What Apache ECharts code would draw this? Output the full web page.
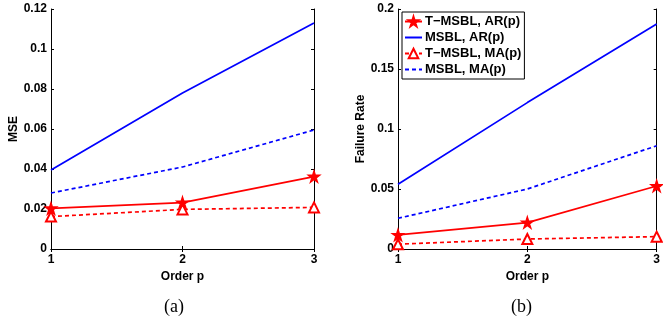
<!DOCTYPE html>
<html>
<head>
<meta charset="utf-8">
<script src="https://cdn.jsdelivr.net/npm/echarts@6/dist/echarts.min.js"></script>
<style>
html,body{margin:0;padding:0;background:#fff;}
#c{width:663px;height:321px;}
</style>
</head>
<body>
<div id="c"></div>
<script>
// Data
const orders = [1, 2, 3];
const seriesNames = ['T\u2212MSBL, AR(p)', 'MSBL, AR(p)', 'T\u2212MSBL, MA(p)', 'MSBL, MA(p)'];
// Panel (a) MSE
const mseTAR = [0.0203, 0.0232, 0.0362];
const mseMSBLAR = [0.0395, 0.078, 0.113];
const mseTMA = [0.0162, 0.0198, 0.0208];
const mseMSBLMA = [0.028, 0.041, 0.0595];
// Panel (b) Failure rate
const frTAR = [0.0117, 0.022, 0.0525];
const frMSBLAR = [0.054, 0.122, 0.1875];
const frTMA = [0.004, 0.0083, 0.0103];
const frMSBLMA = [0.0256, 0.050, 0.086];
const captions = ['(a)', '(b)'];

const STAR = 'path://M50,0 L61.2,34.5 L97.6,34.5 L68.2,55.9 L79.4,90.5 L50,69.1 L20.6,90.5 L31.8,55.9 L2.4,34.5 L38.8,34.5 Z';
const RED = '#ff0000', BLUE = '#0000ff';
const FONT = 'Liberation Sans, Arial, sans-serif';

const pairs = (ys) => orders.map((x, i) => [x, ys[i]]);

const grids = [
  {left: 51, top: 9, width: 263, height: 240},
  {left: 398, top: 9, width: 264, height: 240}
];
const yRanges = [{max: 0.12, interval: 0.02, name: 'MSE'}, {max: 0.2, interval: 0.05, name: 'Failure Rate'}];

const xAxes = [], yAxes = [];
grids.forEach((g, gi) => {
  xAxes.push({
    gridIndex: gi, type: 'value', min: 1, max: 3, interval: 1, position: 'bottom',
    name: 'Order p', nameLocation: 'middle', nameGap: 17,
    nameTextStyle: {fontFamily: FONT, fontWeight: 'bold', fontSize: 12, color: '#000'},
    axisLine: {show: true, lineStyle: {color: '#000', width: 1}},
    axisTick: {show: true, inside: true, length: 3, lineStyle: {color: '#000'}},
    axisLabel: {fontFamily: FONT, fontWeight: 'bold', fontSize: 12, color: '#000', margin: 5},
    splitLine: {show: false}
  });
  xAxes.push({
    gridIndex: gi, type: 'value', min: 1, max: 3, interval: 1, position: 'top',
    axisLine: {show: true, lineStyle: {color: '#000', width: 1}},
    axisTick: {show: true, inside: true, length: 3, lineStyle: {color: '#000'}},
    axisLabel: {show: false}, splitLine: {show: false}
  });
  const r = yRanges[gi];
  yAxes.push({
    gridIndex: gi, type: 'value', min: 0, max: r.max, interval: r.interval, position: 'left',
    name: r.name, nameLocation: 'middle', nameGap: 31, nameRotate: 90,
    nameTextStyle: {fontFamily: FONT, fontWeight: 'bold', fontSize: 12, color: '#000'},
    axisLine: {show: true, lineStyle: {color: '#000', width: 1}},
    axisTick: {show: true, inside: true, length: 3, lineStyle: {color: '#000'}},
    axisLabel: {fontFamily: FONT, fontWeight: 'bold', fontSize: 12, color: '#000', margin: 4},
    splitLine: {show: false}
  });
  yAxes.push({
    gridIndex: gi, type: 'value', min: 0, max: r.max, interval: r.interval, position: 'right',
    axisLine: {show: true, lineStyle: {color: '#000', width: 1}},
    axisTick: {show: true, inside: true, length: 3, lineStyle: {color: '#000'}},
    axisLabel: {show: false}, splitLine: {show: false}
  });
});

const panelData = [
  [mseTAR, mseMSBLAR, mseTMA, mseMSBLMA],
  [frTAR, frMSBLAR, frTMA, frMSBLMA]
];
const styles = [
  {color: RED, type: 'solid', symbol: STAR, size: 11},
  {color: BLUE, type: 'solid', symbol: 'none', size: 0},
  {color: RED, type: [4, 3], symbol: 'emptyTriangle', size: 10},
  {color: BLUE, type: [4, 3], symbol: 'none', size: 0}
];
const series = [];
panelData.forEach((arrs, gi) => {
  arrs.forEach((ys, si) => {
    const st = styles[si];
    const noSym = st.symbol === 'none';
    series.push({
      name: seriesNames[si], type: 'line',
      xAxisIndex: gi * 2, yAxisIndex: gi * 2,
      data: pairs(ys),
      symbol: st.symbol, symbolSize: st.size, showSymbol: !noSym,
      clip: false, animation: false,
      lineStyle: {color: st.color, width: 1.7, type: st.type},
      itemStyle: noSym ? {color: 'rgba(0,0,0,0)', opacity: 0} : {color: st.color, borderColor: st.color, borderWidth: 1.5},
      z: 10 - si
    });
  });
});

const chart = echarts.init(document.getElementById('c'), null, {renderer: 'canvas'});
chart.setOption({
  backgroundColor: '#fff',
  animation: false,
  grid: grids,
  xAxis: xAxes,
  yAxis: yAxes,
  series: series,
  legend: {
    data: seriesNames.map((n, i) => styles[i].symbol === 'none' ? {name: n, itemStyle: {opacity: 0}} : {name: n}),
    orient: 'vertical', left: 402, top: 12,
    backgroundColor: '#fff', borderColor: '#000', borderWidth: 1,
    padding: [3, 3, 3, 2],
    itemWidth: 17, itemHeight: 12, itemGap: 3,
    textStyle: {fontFamily: FONT, fontWeight: 'bold', fontSize: 13, color: '#000', padding: [0, 0, 0, -2]},
    selectedMode: false
  },
  graphic: [
    {type: 'text', left: 164, top: 298, style: {text: captions[0], font: '18px "Liberation Serif", "Times New Roman", serif', fill: '#000'}},
    {type: 'text', left: 511, top: 298, style: {text: captions[1], font: '18px "Liberation Serif", "Times New Roman", serif', fill: '#000'}}
  ]
});
</script>
</body>
</html>
